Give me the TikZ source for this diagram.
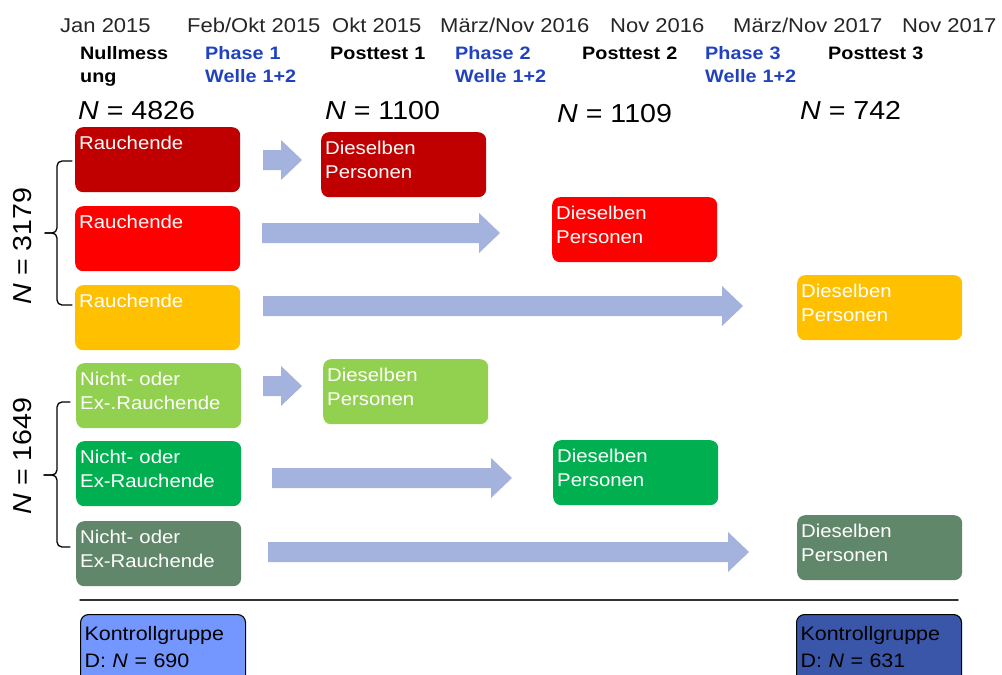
\documentclass[tikz,border=0pt]{standalone}
\usepackage{fontspec}
\setmainfont{Liberation Sans}[FakeStretch=1.1]
\usetikzlibrary{positioning}
\definecolor{rowDark}{HTML}{C00000}
\definecolor{rowRed}{HTML}{FF0000}
\definecolor{rowAmber}{HTML}{FFC000}
\definecolor{rowLime}{HTML}{92D050}
\definecolor{rowGreen}{HTML}{00B050}
\definecolor{rowSage}{HTML}{61876A}
\definecolor{flowBlue}{HTML}{A4B2DE}
\definecolor{phaseBlue}{HTML}{2142C0}
\definecolor{ctrlLight}{HTML}{7396FF}
\definecolor{ctrlDark}{HTML}{3A56A8}

\begin{document}
\begin{tikzpicture}[x=1pt,y=-1pt,line cap=round,line join=round]
\useasboundingbox (0,0) rectangle (1002,675);
\path[fill=white] (0,0) rectangle (1002,675);
\tikzset{datum/.style={anchor=base west,inner sep=0pt,text=black!85,font=\fontsize{20}{24}\selectfont},stage/.style={anchor=base west,inner sep=0pt,text width=120pt,align=left,font=\bfseries\fontsize{18}{23.5}\selectfont},phase/.style={stage,text=phaseBlue},count/.style={anchor=base west,inner sep=0pt,font=\fontsize{26}{30}\selectfont},group/.style={anchor=north west,rounded corners=8pt,inner xsep=4pt,inner ysep=4pt,text width=157pt,text height=18pt,text depth=39pt,align=left,text=white,font=\fontsize{18.5}{24}\selectfont},flow/.style={fill=flowBlue},brace/.style={draw=black,line width=1.3pt,rounded corners=5pt},ctrl/.style={group,draw=black,line width=1.1pt,text=black,text width=157pt,text height=22pt,text depth=60pt,font=\fontsize{19.5}{27}\selectfont}}
% time line
\node[datum] (d1) at (60,32) {Jan 2015};
\node[datum] (d2) at (187,32) {Feb/Okt 2015};
\node[datum] (d3) at (332,32) {Okt 2015};
\node[datum] (d4) at (440,32) {März/Nov 2016};
\node[datum] (d5) at (610,32) {Nov 2016};
\node[datum] (d6) at (733,32) {März/Nov 2017};
\node[datum] (d7) at (902,32) {Nov 2017};
\node[stage] (s0) at (80,59) {Nullmess\\ung};
\node[phase] (p1) at (205,59) {Phase 1\\Welle 1+2};
\node[stage] (s1) at (330,59) {Posttest 1};
\node[phase] (p2) at (455,59) {Phase 2\\Welle 1+2};
\node[stage] (s2) at (582,59) {Posttest 2};
\node[phase] (p3) at (705,59) {Phase 3\\Welle 1+2};
\node[stage] (s3) at (828,59) {Posttest 3};
\node[count] (n0) at (78,119) {\textit{N} = 4826};
\node[count] (n1) at (325,119) {\textit{N} = 1100};
\node[count] (n2) at (557,122) {\textit{N} = 1109};
\node[count] (n3) at (800,119) {\textit{N} = 742};
% groups at baseline
\node[group,fill=rowDark] (l1) at (75,127) {Rauchende};
\node[group,fill=rowRed] (l2) at (75,206) {Rauchende};
\node[group,fill=rowAmber] (l3) at (75,285) {Rauchende};
\node[group,fill=rowLime] (l4) at (76,363) {Nicht- oder\\Ex-.Rauchende};
\node[group,fill=rowGreen] (l5) at (76,441) {Nicht- oder\\Ex-Rauchende};
\node[group,fill=rowSage] (l6) at (76,521) {Nicht- oder\\Ex-Rauchende};
% same persons at posttests
\node[group,fill=rowDark] (r1) at (321,132) {Dieselben\\Personen};
\node[group,fill=rowRed] (r2) at (552,197) {Dieselben\\Personen};
\node[group,fill=rowAmber] (r3) at (797,275) {Dieselben\\Personen};
\node[group,fill=rowLime] (r4) at (323,359) {Dieselben\\Personen};
\node[group,fill=rowGreen] (r5) at (553,440) {Dieselben\\Personen};
\node[group,fill=rowSage] (r6) at (797,515) {Dieselben\\Personen};
% block arrows
\foreach \xa/\xb/\ym in {263/302/160,262/500/233,263/743/306,263/302/386,272/512/478,268/749/552}
  \fill[flow] (\xa,\ym-10) -- (\xb-21,\ym-10) -- (\xb-21,\ym-20) -- (\xb,\ym) -- (\xb-21,\ym+20) -- (\xb-21,\ym+10) -- (\xa,\ym+10) -- cycle;
% braces
\draw[brace] (72,161) -- (57,161) -- (57,233) -- (45,233);
\draw[brace] (45,233) -- (57,233) -- (57,305) -- (72,305);
\draw[brace] (70,402) -- (57,402) -- (57,475) -- (44,475);
\draw[brace] (44,475) -- (57,475) -- (57,547) -- (70,547);
\node[count,anchor=center,rotate=90] (b1) at (23,246) {\textit{N} = 3179};
\node[count,anchor=center,rotate=90] (b2) at (23,456) {\textit{N} = 1649};
% control group
\draw[line width=1.5pt,draw=black!80] (80,600) -- (958,600);
\node[ctrl,fill=ctrlLight] (k1) at (80,614) {Kontrollgruppe\\D: \textit{N} = 690};
\node[ctrl,fill=ctrlDark] (k2) at (796,614) {Kontrollgruppe\\D: \textit{N} = 631};
\end{tikzpicture}
\end{document}
